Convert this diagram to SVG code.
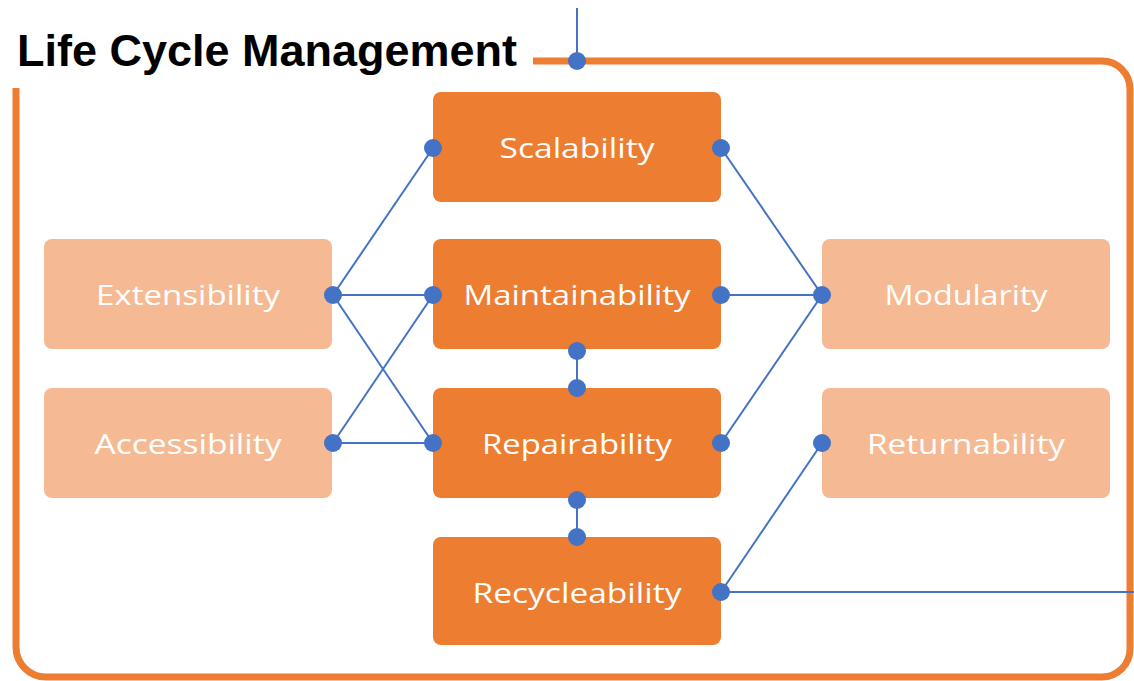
<svg xmlns="http://www.w3.org/2000/svg" width="1134" height="681" viewBox="0 0 1134 681">
<defs>
<style>
.frame{fill:none;stroke:#ED7D31;stroke-width:7;stroke-linecap:butt}
.dark{fill:#ED7D31}
.light{fill:#F5BA93}
.lbl{font-family:"Open Sans","Liberation Sans",sans-serif;font-size:28px;fill:#FFFFFF;text-anchor:middle;font-weight:500}
.title{font-family:"Liberation Sans",Arial,sans-serif;font-size:44px;font-weight:bold;fill:#000000}
.conn line{stroke:#4472C4;stroke-width:2}
.dot{fill:#4472C4}
</style>
</defs>
<rect width="1134" height="681" fill="#FFFFFF"/>
<path class="frame" d="M 533 61 H 1102 A 28 28 0 0 1 1130 89 V 649 A 28 28 0 0 1 1102 677 H 46 A 30 30 0 0 1 16 647 V 88"/>
<text class="title" x="17" y="66" textLength="500" lengthAdjust="spacingAndGlyphs">Life Cycle Management</text>

<g id="node-scalability"><rect class="dark" x="433" y="92" width="288" height="110" rx="8"/><text class="lbl" x="577" y="158" textLength="155" lengthAdjust="spacingAndGlyphs">Scalability</text></g>
<g id="node-maintainability"><rect class="dark" x="433" y="239" width="288" height="110" rx="8"/><text class="lbl" x="577" y="305" textLength="227" lengthAdjust="spacingAndGlyphs">Maintainability</text></g>
<g id="node-repairability"><rect class="dark" x="433" y="388" width="288" height="110" rx="8"/><text class="lbl" x="577" y="454" textLength="190" lengthAdjust="spacingAndGlyphs">Repairability</text></g>
<g id="node-recycleability"><rect class="dark" x="433" y="537" width="288" height="108" rx="8"/><text class="lbl" x="577" y="603" textLength="209" lengthAdjust="spacingAndGlyphs">Recycleability</text></g>
<g id="node-extensibility"><rect class="light" x="44" y="239" width="288" height="110" rx="8"/><text class="lbl" x="188" y="305" textLength="184" lengthAdjust="spacingAndGlyphs">Extensibility</text></g>
<g id="node-accessibility"><rect class="light" x="44" y="388" width="288" height="110" rx="8"/><text class="lbl" x="188" y="454" textLength="187" lengthAdjust="spacingAndGlyphs">Accessibility</text></g>
<g id="node-modularity"><rect class="light" x="822" y="239" width="288" height="110" rx="8"/><text class="lbl" x="966" y="305" textLength="163" lengthAdjust="spacingAndGlyphs">Modularity</text></g>
<g id="node-returnability"><rect class="light" x="822" y="388" width="288" height="110" rx="8"/><text class="lbl" x="966" y="454" textLength="198" lengthAdjust="spacingAndGlyphs">Returnability</text></g>

<g id="connectors" class="conn">
<line x1="577" y1="8" x2="577" y2="61"/>
<line x1="333" y1="295" x2="433" y2="148"/>
<line x1="333" y1="295" x2="433" y2="295"/>
<line x1="333" y1="295" x2="433" y2="443"/>
<line x1="333" y1="443" x2="433" y2="295"/>
<line x1="333" y1="443" x2="433" y2="443"/>
<line x1="721" y1="148" x2="822" y2="295"/>
<line x1="721" y1="295" x2="822" y2="295"/>
<line x1="721" y1="443" x2="822" y2="295"/>
<line x1="577" y1="351" x2="577" y2="388"/>
<line x1="577" y1="500" x2="577" y2="537"/>
<line x1="721" y1="592" x2="822" y2="443"/>
<line x1="721" y1="592" x2="1134" y2="592"/>
<circle class="dot" cx="577" cy="61" r="9"/>
<circle class="dot" cx="433" cy="148" r="9"/>
<circle class="dot" cx="721" cy="148" r="9"/>
<circle class="dot" cx="333" cy="295" r="9"/>
<circle class="dot" cx="433" cy="295" r="9"/>
<circle class="dot" cx="721" cy="295" r="9"/>
<circle class="dot" cx="822" cy="295" r="9"/>
<circle class="dot" cx="333" cy="443" r="9"/>
<circle class="dot" cx="433" cy="443" r="9"/>
<circle class="dot" cx="721" cy="443" r="9"/>
<circle class="dot" cx="822" cy="443" r="9"/>
<circle class="dot" cx="577" cy="351" r="9"/>
<circle class="dot" cx="577" cy="388" r="9"/>
<circle class="dot" cx="577" cy="500" r="9"/>
<circle class="dot" cx="577" cy="537" r="9"/>
<circle class="dot" cx="721" cy="592" r="9"/>
</g>
</svg>
